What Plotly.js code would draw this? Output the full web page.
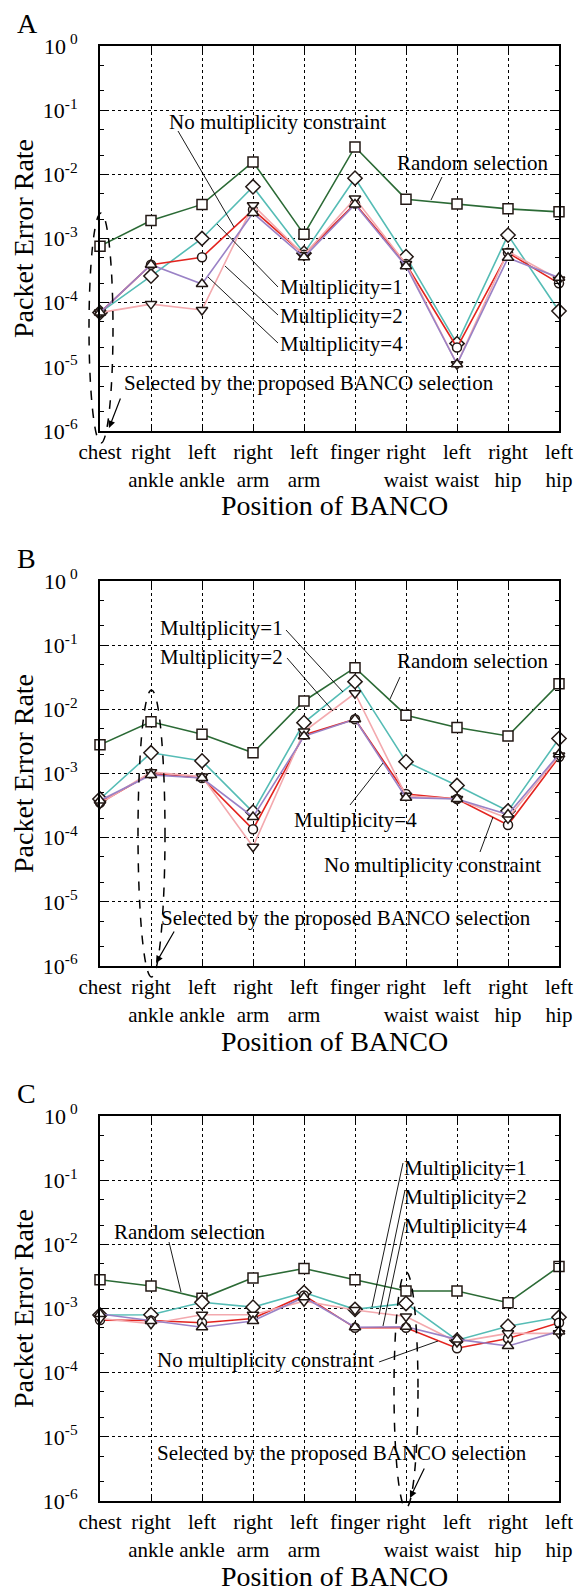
<!DOCTYPE html>
<html>
<head>
<meta charset="utf-8">
<script src="https://cdn.plot.ly/plotly-3.0.1.min.js"></script>
<style>
html,body{margin:0;padding:0;background:#fff;}
#chart{width:575px;height:1592px;}
</style>
</head>
<body>
<div id="chart"></div>
<script>
// ---------- data ----------
const positions = ['chest','right ankle','left ankle','right arm','left arm','finger','right waist','left waist','right hip','left hip'];
const tickLabels = ['chest','right<br>ankle','left<br>ankle','right<br>arm','left<br>arm','finger','right<br>waist','left<br>waist','right<br>hip','left<br>hip'];
const yTickValues = [1e-6,1e-5,1e-4,1e-3,1e-2,1e-1,1];
const yTickLabels = ['10<sup>-6</sup>','10<sup>-5</sup>','10<sup>-4</sup>','10<sup>-3</sup>','10<sup>-2</sup>','10<sup>-1</sup>','10<sup> 0</sup>'];
const seriesNames = ['Random selection','Multiplicity=1','No multiplicity constraint','Multiplicity=2','Multiplicity=4'];
const xTitle = 'Position of BANCO';
const yTitle = 'Packet Error Rate';
const panelLetters = ['A', 'B', 'C'];

// Panel A
const randomA  = [7.6e-4, 1.9e-3, 3.4e-3, 1.56e-2, 1.16e-3, 2.67e-2, 4.1e-3, 3.45e-3, 2.9e-3, 2.6e-3];
const mult1A   = [7e-5, 2.6e-4, 1.0e-3, 6.4e-3, 5.9e-4, 8.7e-3, 5.2e-4, 2.3e-5, 1.13e-3, 7.4e-5];
const noConstA = [7e-5, 3.9e-4, 5.1e-4, 2.8e-3, 5.6e-4, 3.5e-3, 4.0e-4, 2.0e-5, 6.0e-4, 2.0e-4];
const mult2A   = [7e-5, 9.5e-5, 7.7e-5, 3.3e-3, 5.5e-4, 4.2e-3, 4.0e-4, 1.1e-5, 6.3e-4, 2.3e-4];
const mult4A   = [7e-5, 3.9e-4, 1.95e-4, 2.5e-3, 5.1e-4, 3.4e-3, 3.7e-4, 1.1e-5, 5.0e-4, 2.45e-4];

// Panel B
const randomB  = [2.8e-3, 6.4e-3, 4.1e-3, 2.1e-3, 1.35e-2, 4.46e-2, 8.1e-3, 5.2e-3, 3.85e-3, 2.5e-2];
const mult1B   = [4.0e-4, 2.1e-3, 1.57e-3, 2.5e-4, 6.2e-3, 2.7e-2, 1.53e-3, 6.5e-4, 2.6e-4, 3.5e-3];
const noConstB = [3.5e-4, 1.0e-3, 8.5e-4, 1.35e-4, 4.0e-3, 7.0e-3, 4.8e-4, 4.0e-4, 1.58e-4, 1.8e-3];
const mult2B   = [3.4e-4, 1.05e-3, 9.0e-4, 7.2e-5, 4.5e-3, 1.78e-2, 4.5e-4, 4.0e-4, 2.0e-4, 1.9e-3];
const mult4B   = [3.8e-4, 9.5e-4, 8.5e-4, 2.1e-4, 3.8e-3, 7.0e-3, 4.2e-4, 4.0e-4, 2.3e-4, 2.0e-3];

// Panel C
const randomC  = [2.8e-3, 2.24e-3, 1.44e-3, 3.0e-3, 4.2e-3, 2.8e-3, 1.87e-3, 1.87e-3, 1.23e-3, 4.5e-3];
const mult1C   = [7.9e-4, 8.0e-4, 1.25e-3, 1.05e-3, 1.77e-3, 9.7e-4, 1.2e-3, 3.2e-4, 5.3e-4, 7.3e-4];
const noConstC = [6.6e-4, 6.5e-4, 6.0e-4, 7.0e-4, 1.6e-3, 5.0e-4, 5.0e-4, 2.4e-4, 3.4e-4, 6.0e-4];
const mult2C   = [7.0e-4, 5.8e-4, 8.0e-4, 8.0e-4, 1.3e-3, 9.5e-4, 7.5e-4, 3.0e-4, 4.1e-4, 4.1e-4];
const mult4C   = [8.2e-4, 6.4e-4, 5.1e-4, 6.4e-4, 1.5e-3, 5.1e-4, 5.2e-4, 3.3e-4, 2.6e-4, 4.4e-4];

const panels = [
  [randomA, mult1A, noConstA, mult2A, mult4A],
  [randomB, mult1B, noConstB, mult2B, mult4B],
  [randomC, mult1C, noConstC, mult2C, mult4C]
];

// ---------- styles ----------
const FONT = 'Liberation Serif, Times New Roman, Times, serif';
const lineColors = ['#2b6a35', '#55bcb5', '#e3241f', '#f3a9ae', '#9a82c6'];
const symbolsFilled = ['square', 'diamond', 'circle', 'triangle-down', 'triangle-up'];
const markerSizes = [10, 11, 9, 10, 10];

const traces = [];
panels.forEach((series, p) => {
  const suf = p === 0 ? '' : String(p + 1);
  series.forEach((vals, s) => {
    traces.push({
      type: 'scatter', mode: 'lines+markers',
      x: positions, y: vals, name: seriesNames[s],
      xaxis: 'x' + suf, yaxis: 'y' + suf,
      cliponaxis: false,
      line: {color: lineColors[s], width: 1.6},
      marker: {symbol: symbolsFilled[s], size: markerSizes[s], color: '#ffffff',
               line: {color: '#231815', width: 1.5}},
      hoverinfo: 'skip'
    });
  });
});

// ---------- layout helpers (pixel geometry of each panel) ----------
const panelTops = [46, 581, 1116];
const L = 100, W = 459, H = 385;
const fx = px => (px - L) / W;
const fy = (p, py) => 1 - (py - panelTops[p]) / H;
const sfx = p => (p === 0 ? '' : String(p + 1));

const annotations = [];
const shapes = [];

function note(p, text, left, cy, size, anchor) {
  annotations.push({
    xref: 'x' + sfx(p) + ' domain', yref: 'y' + sfx(p) + ' domain',
    x: fx(left), y: fy(p, cy), xanchor: anchor || 'left', yanchor: 'middle',
    text: text, showarrow: false, borderpad: 0,
    font: {family: FONT, size: size || 21, color: '#000'}
  });
}
function leader(p, x0, y0, x1, y1) {
  shapes.push({
    type: 'line', xref: 'x' + sfx(p) + ' domain', yref: 'y' + sfx(p) + ' domain',
    x0: fx(x0), y0: fy(p, y0), x1: fx(x1), y1: fy(p, y1),
    line: {color: '#000', width: 0.9}
  });
}
function ellipse(p, x0, y0, x1, y1) {
  shapes.push({
    type: 'circle', xref: 'x' + sfx(p) + ' domain', yref: 'y' + sfx(p) + ' domain',
    x0: fx(x0), y0: fy(p, y0), x1: fx(x1), y1: fy(p, y1),
    line: {color: '#000', width: 1.5, dash: 'dash'}
  });
}
function arrow(p, tailX, tailY, tipX, tipY) {
  annotations.push({
    xref: 'x' + sfx(p) + ' domain', yref: 'y' + sfx(p) + ' domain',
    x: fx(tipX), y: fy(p, tipY), ax: tailX - tipX, ay: tailY - tipY,
    text: '', showarrow: true, arrowhead: 2, arrowsize: 1.2, arrowwidth: 1.2,
    arrowcolor: '#000', standoff: 0, startstandoff: 0
  });
}

// Panel letters and x-axis titles (same placement in every panel)
panelLetters.forEach((letter, p) => {
  note(p, letter, 16, panelTops[p] - 23, 28);
  note(p, xTitle, 334, panelTops[p] + 460, 28, 'center');
});

// Panel A annotations
note(0, 'No multiplicity constraint', 168, 122);
leader(0, 178, 131, 234, 227);
note(0, 'Random selection', 396, 163);
leader(0, 442, 177, 431, 200);
note(0, 'Multiplicity=1', 279, 287);
leader(0, 278, 287, 217, 224);
note(0, 'Multiplicity=2', 279, 316);
leader(0, 278, 315, 225, 266);
note(0, 'Multiplicity=4', 279, 344);
leader(0, 278, 343, 208, 277);
note(0, 'Selected by the proposed BANCO selection', 123, 383);
ellipse(0, 89, 213, 113, 443);
arrow(0, 121, 397, 109, 428);

// Panel B annotations
note(1, 'Multiplicity=1', 159, 628);
leader(1, 286, 630, 343, 692);
note(1, 'Multiplicity=2', 159, 657);
leader(1, 287, 658, 333, 711);
note(1, 'Random selection', 396, 661);
leader(1, 400, 677, 390, 699);
note(1, 'Multiplicity=4', 293, 820);
leader(1, 350, 805, 383, 763);
note(1, 'No multiplicity constraint', 323, 865);
leader(1, 480, 852, 493, 817);
note(1, 'Selected by the proposed BANCO selection', 160, 918);
ellipse(1, 138, 690, 165, 977);
arrow(1, 175, 930, 156, 963);

// Panel C annotations
note(2, 'Multiplicity=1', 403, 1168);
leader(2, 403, 1163, 372, 1307);
note(2, 'Multiplicity=2', 403, 1197);
leader(2, 405, 1190, 379, 1315);
note(2, 'Multiplicity=4', 403, 1226);
leader(2, 405, 1222, 383, 1326);
note(2, 'Random selection', 113, 1232);
leader(2, 169, 1242, 181, 1292);
note(2, 'No multiplicity constraint', 156, 1360);
leader(2, 379, 1362, 438, 1341);
note(2, 'Selected by the proposed BANCO selection', 156, 1453);
ellipse(2, 394, 1272, 418, 1508);
arrow(2, 425, 1467, 410, 1498);

// ---------- axes ----------
function xAxis(p) {
  return {
    type: 'category', anchor: 'y' + sfx(p), domain: [0, 1], range: [0, 9],
    tickmode: 'array', tickvals: positions, ticktext: tickLabels,
    ticks: 'inside', ticklen: 6, tickwidth: 1, tickcolor: '#000',
    showline: true, linecolor: '#000', linewidth: 2, mirror: 'ticks',
    showgrid: true, gridcolor: '#000', gridwidth: 1, griddash: 'dot',
    zeroline: false, ticklabelstandoff: 1, ticklabeloverflow: 'allow',
    tickfont: {family: FONT, size: 21, color: '#000'},
    fixedrange: true
  };
}
const totalH = 1592 - 46 - 91;
function yDomain(p) {
  const top = panelTops[p], bot = top + H;
  return [(1501 - bot) / totalH, (1501 - top) / totalH];
}
function yAxis(p) {
  return {
    type: 'log', anchor: 'x' + sfx(p), domain: yDomain(p), range: [-6, 0],
    tickmode: 'array', tickvals: yTickValues, ticktext: yTickLabels,
    ticks: 'inside', ticklen: 6, tickwidth: 1, tickcolor: '#000',
    minor: {ticks: 'inside', ticklen: 4, tickcolor: '#000', dtick: 'D2', showgrid: false},
    showline: true, linecolor: '#000', linewidth: 2, mirror: 'ticks',
    showgrid: true, gridcolor: '#000', gridwidth: 1, griddash: 'dot',
    zeroline: false, ticklabelstandoff: 16,
    tickfont: {family: FONT, size: 22, color: '#000'},
    title: {text: yTitle, font: {family: FONT, size: 28, color: '#000'}, standoff: 1},
    fixedrange: true
  };
}

const layout = {
  width: 575, height: 1592,
  margin: {l: 100, r: 16, t: 46, b: 91, pad: 0},
  paper_bgcolor: '#fff', plot_bgcolor: '#fff',
  showlegend: false,
  font: {family: FONT, color: '#000'},
  xaxis: xAxis(0), xaxis2: xAxis(1), xaxis3: xAxis(2),
  yaxis: yAxis(0), yaxis2: yAxis(1), yaxis3: yAxis(2),
  annotations: annotations, shapes: shapes
};

Plotly.newPlot('chart', traces, layout, {staticPlot: true, displayModeBar: false});
</script>
</body>
</html>
